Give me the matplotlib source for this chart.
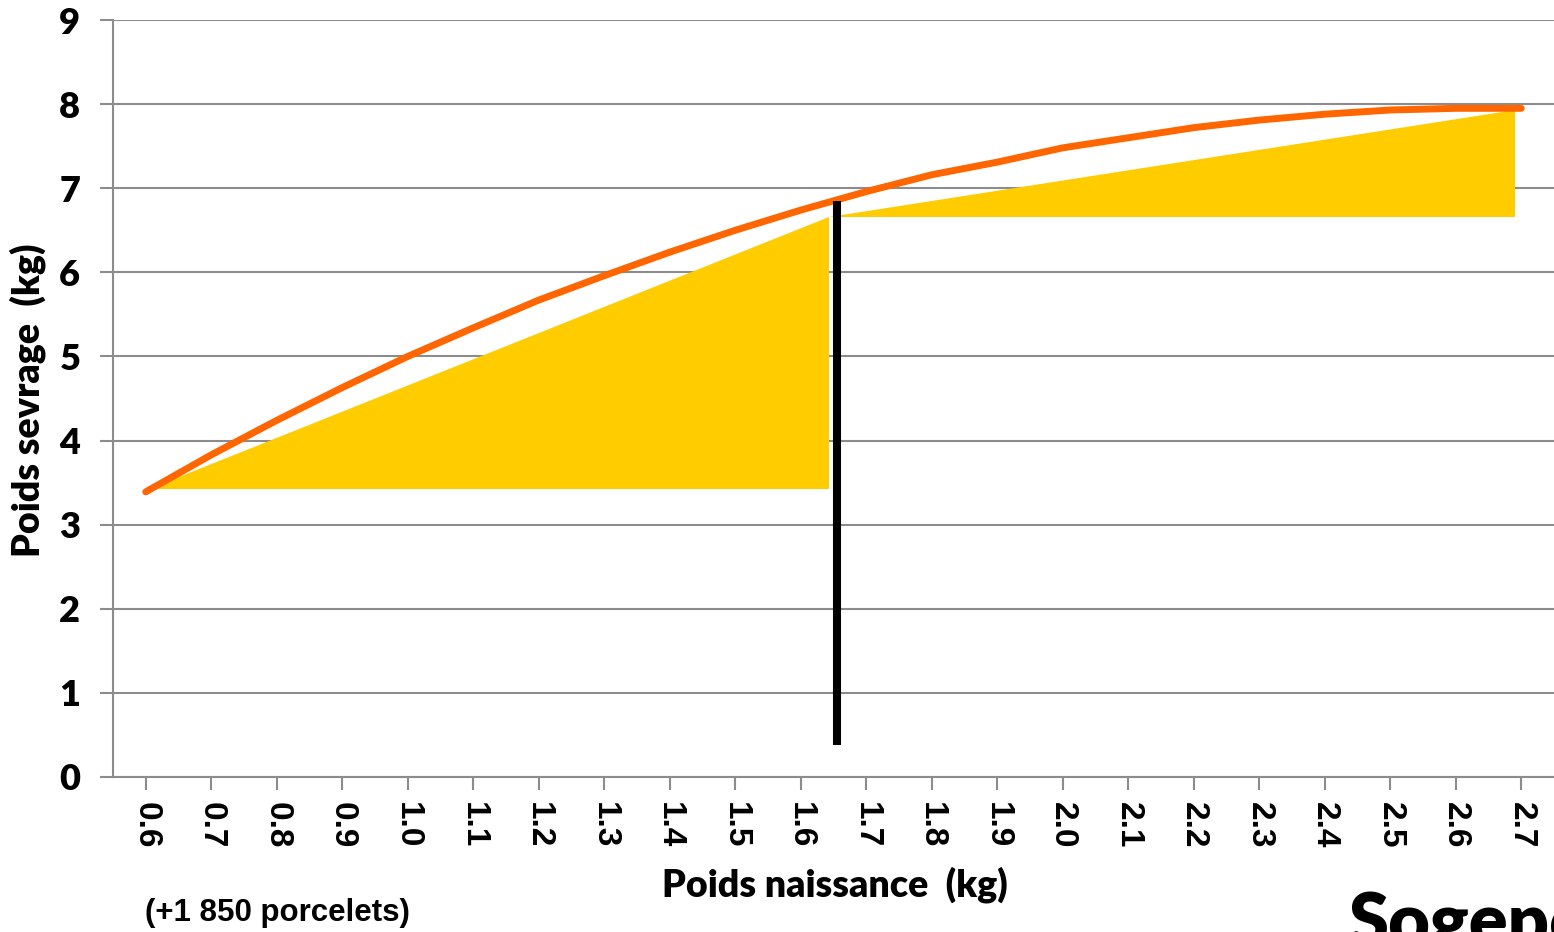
import numpy as np
import matplotlib.pyplot as plt

# ______________________________ data ______________________________
poids_naissance = ['0.6', '0.7', '0.8', '0.9', '1.0', '1.1', '1.2', '1.3', '1.4', '1.5', '1.6',
                   '1.7', '1.8', '1.9', '2.0', '2.1', '2.2', '2.3', '2.4', '2.5', '2.6', '2.7']
poids_sevrage = [3.39, 3.83, 4.24, 4.63, 5.00, 5.34, 5.67, 5.96, 6.24, 6.50, 6.74,
                 6.96, 7.16, 7.31, 7.48, 7.60, 7.72, 7.81, 7.88, 7.93, 7.95, 7.95]

# yellow triangles (kg, kg)
tri1_x = [0.605, 1.643, 1.643]
tri1_y = [3.42, 3.42, 6.66]
tri2_x = [1.643, 2.69, 2.69]
tri2_y = [6.66, 6.66, 7.93]

# threshold line
seuil_x = 1.655
seuil_y = [0.38, 6.85]

grey = '#8c8c8c'
orange = '#ff6600'
yellow = '#ffcc00'


def kg_to_pos(v):
    # category axis: 0.6 kg -> 0, step 0.1 kg
    return (np.asarray(v) - 0.6) / 0.1


# ______________________________ plot ______________________________
fig = plt.figure(figsize=(15.54, 9.32), dpi=100)
ax = fig.add_axes([113 / 1554, 1 - 777 / 932, 1 - 113 / 1554, (777 - 20) / 932])

x = np.arange(len(poids_naissance))

ax.fill(kg_to_pos(tri1_x), tri1_y, color=yellow, lw=0, zorder=2)
ax.fill(kg_to_pos(tri2_x), tri2_y, color=yellow, lw=0, zorder=2)
ax.plot(x, poids_sevrage, color=orange, lw=5, solid_capstyle='round', zorder=4)
ax.plot(kg_to_pos([seuil_x, seuil_x]), seuil_y, color='black', lw=5.8,
        solid_capstyle='butt', zorder=5)

ax.set_xlim(-0.5, len(poids_naissance) - 0.5)
ax.set_ylim(0, 9)
ax.set_yticks(range(10))
ax.set_xticks(x)
ax.set_xticklabels(poids_naissance, rotation=-90, fontsize=24, fontweight='bold',
                   family='Liberation Sans')
for lab in ax.get_yticklabels():
    lab.set_fontsize(26)
    lab.set_fontweight('heavy')
    lab.set_family('Lato')

ax.grid(axis='y', color=grey, lw=1.5, zorder=0)
ax.set_axisbelow(True)
ax.tick_params(axis='y', length=9.5, width=1.5, color=grey, pad=14)
ax.tick_params(axis='x', length=9, width=1.5, color=grey, pad=9)
for s in ['top', 'right']:
    ax.spines[s].set_visible(False)
ax.spines['left'].set_color(grey)
ax.spines['left'].set_linewidth(1.5)
ax.spines['bottom'].set_color(grey)
ax.spines['bottom'].set_linewidth(1.5)

fig.text(28 / 1554, 1 - 400 / 932, 'Poids sevrage  (kg)', rotation=90, ha='center', va='center',
         fontsize=27, fontweight='heavy', family='Lato')
fig.text(835 / 1554, 1 - 885 / 932, 'Poids naissance  (kg)', ha='center', va='center',
         fontsize=27, fontweight='heavy', family='Lato')
fig.text(145 / 1554, 1 - 913 / 932, '(+1 850 porcelets)', ha='left', va='center',
         fontsize=22.5, fontweight='bold', family='Liberation Sans')
# logo, cut by the right/bottom edge as in the original
fig.text(1348 / 1554, 1 - 945 / 932, 'Sogeporc', ha='left', va='baseline',
         fontsize=52, fontweight='heavy', family='Lato')

fig.savefig('out.png', dpi=100)
